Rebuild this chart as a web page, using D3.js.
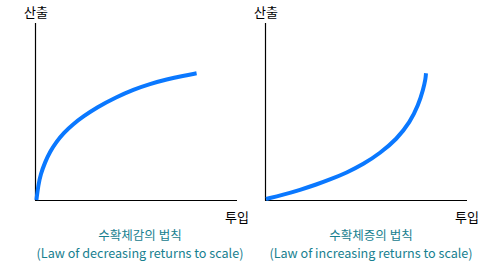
<!DOCTYPE html>
<html>
<head>
<meta charset="utf-8">
<script src="https://cdn.jsdelivr.net/npm/d3@7"></script>
<style>
  body { margin: 0; background: #fff; }
  svg { display: block; }
</style>
</head>
<body>
<div id="chart"></div>
<script>
// Curve points (input, output), both on a 0-100 scale
const decreasingInput = [0.7, 1.6, 2.8, 5.0, 7.4, 10.7, 14.0, 19.0, 23.9, 30.5, 40.4, 48.7, 56.9, 65.2, 73.4, 80.0]
const decreasingOutput = [0, 8.2, 14.6, 21.4, 27.3, 33.0, 37.7, 43.0, 47.2, 52.3, 58.2, 62.4, 65.6, 68.2, 70.2, 71.6]
const increasingInput = [0.5, 9.1, 17.3, 25.6, 32.2, 40.4, 48.7, 56.9, 65.2, 71.8, 75.9, 78.4, 79.5, 79.7]
const increasingOutput = [0.6, 3.0, 5.7, 8.8, 11.6, 15.4, 20.2, 26.4, 34.3, 44.0, 53.5, 62.8, 68.5, 71.6]
const yLabel = '산출'
const xLabel = '투입'
const titles = ['수확체감의 법칙', '수확체증의 법칙']
const subtitles = ['(Law of decreasing returns to scale)', '(Law of increasing returns to scale)']

const width = 500
const height = 274
const font = '"Noto Sans CJK KR", "Noto Sans", sans-serif'

const svg = d3.select('#chart')
  .append('svg')
  .attr('width', width)
  .attr('height', height)

// one panel per law
const panels = [
  { left: 35, cx: 140, xs: decreasingInput, ys: decreasingOutput, title: titles[0], sub: subtitles[0] },
  { left: 265, cx: 371, xs: increasingInput, ys: increasingOutput, title: titles[1], sub: subtitles[1] }
]

panels.forEach(function (p) {
  const x = d3.scaleLinear().domain([0, 100]).range([p.left, p.left + 202])
  const y = d3.scaleLinear().domain([0, 100]).range([200, 23])
  const g = svg.append('g')

  // axes
  g.append('line')
    .attr('x1', x(0) + 0.5).attr('x2', x(0) + 0.5)
    .attr('y1', y(100)).attr('y2', y(0) + 0.5)
    .style('stroke', '#000')
    .style('stroke-width', 1.2)
  g.append('line')
    .attr('x1', x(0)).attr('x2', x(100))
    .attr('y1', y(0) + 0.5).attr('y2', y(0) + 0.5)
    .style('stroke', '#000')
    .style('stroke-width', 1.2)

  const pts = p.xs.map(function (d, i) { return [d, p.ys[i]] })
  const line = d3.line()
    .x(function (d) { return x(d[0]) })
    .y(function (d) { return y(d[1]) })
    .curve(d3.curveBasis)

  g.append('path')
    .datum(pts)
    .attr('d', line)
    .style('fill', 'none')
    .style('stroke', '#0a78ff')
    .style('stroke-width', 4)
    .style('stroke-linecap', 'butt')

  g.append('text')
    .attr('x', x(0) + 1)
    .attr('y', 17)
    .attr('text-anchor', 'middle')
    .attr('font-family', font)
    .attr('font-size', '13px')
    .attr('fill', '#000')
    .text(yLabel)

  g.append('text')
    .attr('x', x(100))
    .attr('y', 222)
    .attr('text-anchor', 'middle')
    .attr('font-family', font)
    .attr('font-size', '13px')
    .attr('fill', '#000')
    .text(xLabel)

  g.append('text')
    .attr('x', p.cx)
    .attr('y', 240)
    .attr('text-anchor', 'middle')
    .attr('font-family', font)
    .attr('font-size', '12.5px')
    .attr('fill', '#17808f')
    .text(p.title)

  g.append('text')
    .attr('x', p.cx)
    .attr('y', 258)
    .attr('text-anchor', 'middle')
    .attr('font-family', font)
    .attr('font-size', '12.6px')
    .attr('fill', '#17808f')
    .text(p.sub)
})
</script>
</body>
</html>
